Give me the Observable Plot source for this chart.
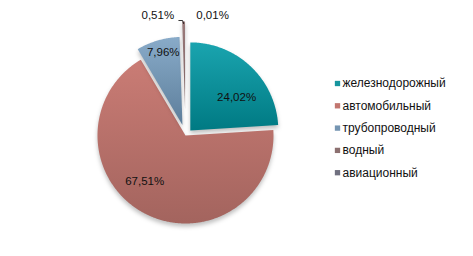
<!DOCTYPE html>
<html><head><meta charset="utf-8">
<script src="https://cdn.jsdelivr.net/npm/d3@7"></script>
<script src="https://cdn.jsdelivr.net/npm/@observablehq/plot@0.6"></script>
<style>
html,body{margin:0;padding:0;background:#fff;}
svg{font-family:"Liberation Sans",Arial,sans-serif;}
g.slice{filter:drop-shadow(0px 3px 2px rgba(0,0,0,0.25));}
</style>
</head><body>
<div id="chart"></div>
<script>
// ---- data ----
const categories = ["железнодорожный", "автомобильный", "трубопроводный", "водный", "авиационный"];
const shares = [24.02, 67.51, 7.96, 0.51, 0.01];
const valueLabels = ["24,02%", "67,51%", "7,96%", "0,51%", "0,01%"];

// ---- style / layout ----
const W = 473, H = 256;
const pie = {cx: 185, cy: 135, r: 88};
const explode = [7, 0, 11, 26, 26];
const gradients = [
  ["#1aa4af", "#007a83"],
  ["#ca7c75", "#a3645e"],
  ["#89abc9", "#5d7e9b"],
  ["#9c7c7c", "#7b6262"],
  ["#8a8a9c", "#6e6e80"]
];
const legendColors = ["#17959e", "#c2766f", "#7595b2", "#8c7070", "#70707f"];
// label placement: [angle (deg, clockwise from top), distance from pie centre]
const labelPos = [[53, 64], [222, 61], [345, 86], [347, 123], [12.7, 123]];
const legend = {x: 337, y0: 83, dy: 22.3};

// ---- geometry from the values ----
const total = d3.sum(shares);
let acc = 0;
const slices = shares.map((v, i) => {
  const a0 = acc / total * 2 * Math.PI;
  acc += v;
  const a1 = acc / total * 2 * Math.PI;
  const mid = (a0 + a1) / 2;
  const cx = pie.cx + explode[i] * Math.sin(mid);
  const cy = pie.cy - explode[i] * Math.cos(mid);
  const pts = [{x: cx, y: cy}];
  const n = Math.max(2, Math.ceil((a1 - a0) / 0.01));
  for (let k = 0; k <= n; k++) {
    const a = a0 + (a1 - a0) * k / n;
    pts.push({x: cx + pie.r * Math.sin(a), y: cy - pie.r * Math.cos(a)});
  }
  pts.push({x: cx, y: cy});
  return {i, a0, a1, mid, cx, cy, pts};
});

const labels = valueLabels.map((t, i) => {
  const a = labelPos[i][0] * Math.PI / 180;
  return {t, x: pie.cx + labelPos[i][1] * Math.sin(a), y: pie.cy - labelPos[i][1] * Math.cos(a)};
});

// leader line for the water slice label
const ws = slices[3];
const wTop = {x: ws.cx + pie.r * Math.sin(ws.mid), y: ws.cy - pie.r * Math.cos(ws.mid)};
const leader = [{x: labels[3].x + 21, y: wTop.y - 1}, {x: wTop.x - 1, y: wTop.y - 1}, {x: wTop.x, y: wTop.y + 2}];

const sliceMarks = slices.map(s => Plot.line(s.pts, {x: "x", y: "y", fill: `url(#grad${s.i})`, stroke: "none", curve: "linear", className: "slice"}));

const chart = Plot.plot({
  width: W, height: H, margin: 0,
  x: {domain: [0, W], range: [0, W], axis: null},
  y: {domain: [0, H], range: [0, H], axis: null},
  style: {background: "#fff", fontFamily: "'Liberation Sans', Arial, sans-serif"},
  marks: [
    ...sliceMarks,
    Plot.line(leader, {x: "x", y: "y", stroke: "#000", strokeWidth: 0.8}),
    Plot.text(labels, {x: "x", y: "y", text: "t", fontSize: 11.5, fill: "#111"}),
    Plot.dot(categories, {x: () => legend.x, y: (d, i) => legend.y0 + i * legend.dy, symbol: "square", r: 3, fill: (d, i) => legendColors[i], stroke: "none"}),
    Plot.text(categories, {x: () => legend.x + 5, y: (d, i) => legend.y0 + i * legend.dy, text: d => d, textAnchor: "start", fontSize: 12, fill: "#111"})
  ]
});

const defs = d3.select(chart).insert("defs", ":first-child");
gradients.forEach((g, i) => {
  const lg = defs.append("linearGradient").attr("id", `grad${i}`).attr("x1", 0).attr("y1", 0).attr("x2", 0).attr("y2", 1);
  lg.append("stop").attr("offset", "0%").attr("stop-color", g[0]);
  lg.append("stop").attr("offset", "100%").attr("stop-color", g[1]);
});

document.getElementById("chart").appendChild(chart);
</script>
</body></html>
